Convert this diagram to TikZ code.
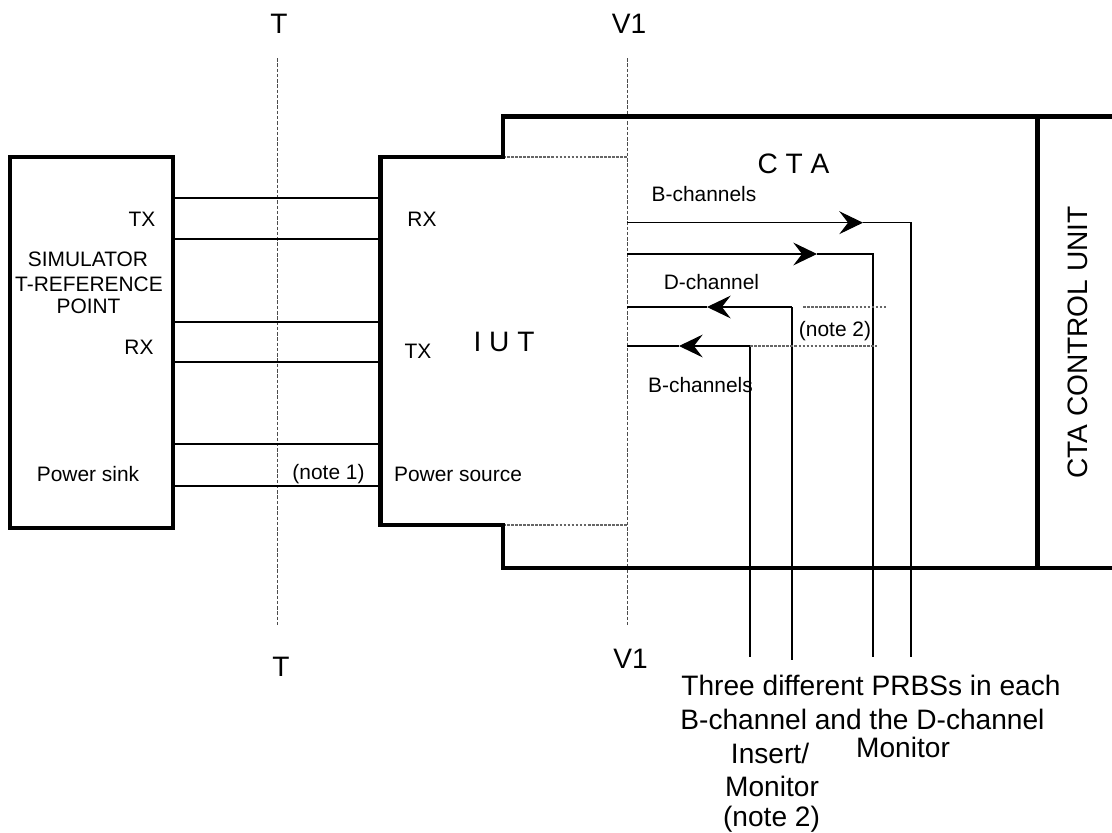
\documentclass[tikz,border=0pt]{standalone}
\usepackage{fontspec}
\setmainfont{Liberation Sans}
\usetikzlibrary{arrows.meta}
\newcommand\smallfnt{\fontsize{11.9}{14}\selectfont}
\newcommand\bigfnt{\fontsize{16}{19}\selectfont}
\begin{document}
\begin{tikzpicture}[x=0.02cm,y=-0.02cm,
  boxline/.style={line width=2.3pt, line join=miter},
  wire/.style={line width=0.6pt},
  refline/.style={line width=0.5pt, black!70, dash pattern=on 2pt off 1pt},
  notedash/.style={line width=0.6pt, black!60, dash pattern=on 1.5pt off 0.8pt},
  sl/.style={font=\smallfnt, inner sep=0pt},
  bl/.style={font=\bigfnt, inner sep=0pt},
  arr/.style={-{Stealth[length=13.5pt,width=13pt,inset=5pt]}}
]
\useasboundingbox (0,0) rectangle (1112,832);

% reference lines
\node[bl] (Ttop) at (279,24) {T};
\node[bl] (V1top) at (629,24) {V1};
\node[bl] (Tbot) at (281,667) {T};
\node[bl] (V1bot) at (630.5,658.5) {V1};
\coordinate (Ta) at (277.5,58);
\coordinate (Tb) at (277.5,625);
\coordinate (Va) at (627,58);
\coordinate (Vb) at (627,625);
\draw[refline] (Ta) -- (Tb);
\draw[refline] (Va) -- (Vb);

% simulator
\node[draw, boxline, minimum width=3.26cm, minimum height=7.42cm, inner sep=0pt] (sim) at (91.5,342.5) {};

% wires simulator - IUT
\foreach \yy [count=\i] in {198,239,322,362,444,486}{
  \coordinate (sw\i) at (173,\yy);
  \coordinate (iw\i) at (380.5,\yy);
  \draw[wire] (sw\i) -- (iw\i);
}

% IUT dashed boundary
\coordinate (iutTR) at (503,157);
\coordinate (iutBR) at (503,525);
\coordinate (v1T) at (627,157);
\coordinate (v1B) at (627,525);
\draw[notedash] (iutTR) -- (v1T);
\draw[notedash] (iutBR) -- (v1B);

% channels inside CTA
\coordinate (c1s) at (627,222.7);
\coordinate (c1t) at (863,222.7);
\coordinate (c1c) at (911,222.7);
\coordinate (c1e) at (911,657);
\draw[wire,arr] (c1s) -- (c1t);
\draw[wire] (c1t) -- (c1c) -- (c1e);

\coordinate (c2s) at (627,254);
\coordinate (c2t) at (817,254);
\coordinate (c2c) at (873,254);
\coordinate (c2e) at (873,657);
\draw[wire,arr] (c2s) -- (c2t);
\draw[wire] (c2t) -- (c2c) -- (c2e);

\coordinate (c3s) at (627,307);
\coordinate (c3t) at (707,307);
\coordinate (c3c) at (792,307);
\coordinate (c3e) at (792,660);
\coordinate (c3da) at (803,307);
\coordinate (c3db) at (886,307);
\draw[wire,arr] (c3c) -- (c3t);
\draw[wire] (c3t) -- (c3s);
\draw[wire] (c3c) -- (c3e);
\draw[notedash] (c3da) -- (c3db);

\coordinate (c4s) at (627,346);
\coordinate (c4t) at (679,346);
\coordinate (c4c) at (750,346);
\coordinate (c4e) at (750,657);
\coordinate (c4db) at (877,346);
\draw[wire,arr] (c4c) -- (c4t);
\draw[wire] (c4t) -- (c4s);
\draw[wire] (c4c) -- (c4e);
\draw[notedash] (c4c) -- (c4db);

% IUT + CTA outline
\coordinate (ctaTR) at (1112,116.5);
\coordinate (ctaTL) at (503,116.5);
\coordinate (iutTL) at (380.5,157);
\coordinate (iutBL) at (380.5,525);
\coordinate (ctaBL) at (503,568);
\coordinate (ctaBR) at (1112,568);
\draw[boxline] (ctaTR) -- (ctaTL) -- (iutTR) -- (iutTL) -- (iutBL) -- (iutBR) -- (ctaBL) -- (ctaBR);
\coordinate (cuT) at (1037.5,116.5);
\coordinate (cuB) at (1037.5,568);
\draw[boxline] (cuT) -- (cuB);

% simulator texts
\node[sl] (stx) at (142,219.5) {TX};
\node[sl] (s1) at (88,259) {SIMULATOR};
\node[sl] (s2) at (89,284.5) {T-REFERENCE};
\node[sl] (s3) at (88.5,306) {POINT};
\node[sl] (srx) at (139,347) {RX};
\node[sl] (sps) at (88,474) {Power sink};
\node[sl] (n1) at (328.5,474) {(note 1)};

% IUT texts
\node[sl] (irx) at (422,219.5) {RX};
\node[sl] (itx) at (418,351) {TX};
\node[bl] (iut) at (504,342) {I U T};
\node[sl] (ips) at (458,474.5) {Power source};

% CTA texts
\node[bl] (cta) at (793.5,164) {C T A};
\node[sl] (bch1) at (704,194.5) {B-channels};
\node[sl] (dch) at (711.5,282.5) {D-channel};
\node[sl] (n2) at (835,331) {(note 2)};
\node[sl] (bch2) at (700.5,385) {B-channels};
\node[bl, rotate=90] (cu) at (1078,342.5) {CTA CONTROL UNIT};

% bottom texts
\node[bl] (b1) at (871,685) {Three different PRBSs in each};
\node[bl] (b2) at (862.5,719) {B-channel and the D-channel};
\node[bl] (b3) at (770,753) {Insert/};
\node[bl] (b4) at (903,747.5) {Monitor};
\node[bl] (b5) at (772,786.5) {Monitor};
\node[bl] (b6) at (771.5,819) {(note 2)};
\end{tikzpicture}
\end{document}
